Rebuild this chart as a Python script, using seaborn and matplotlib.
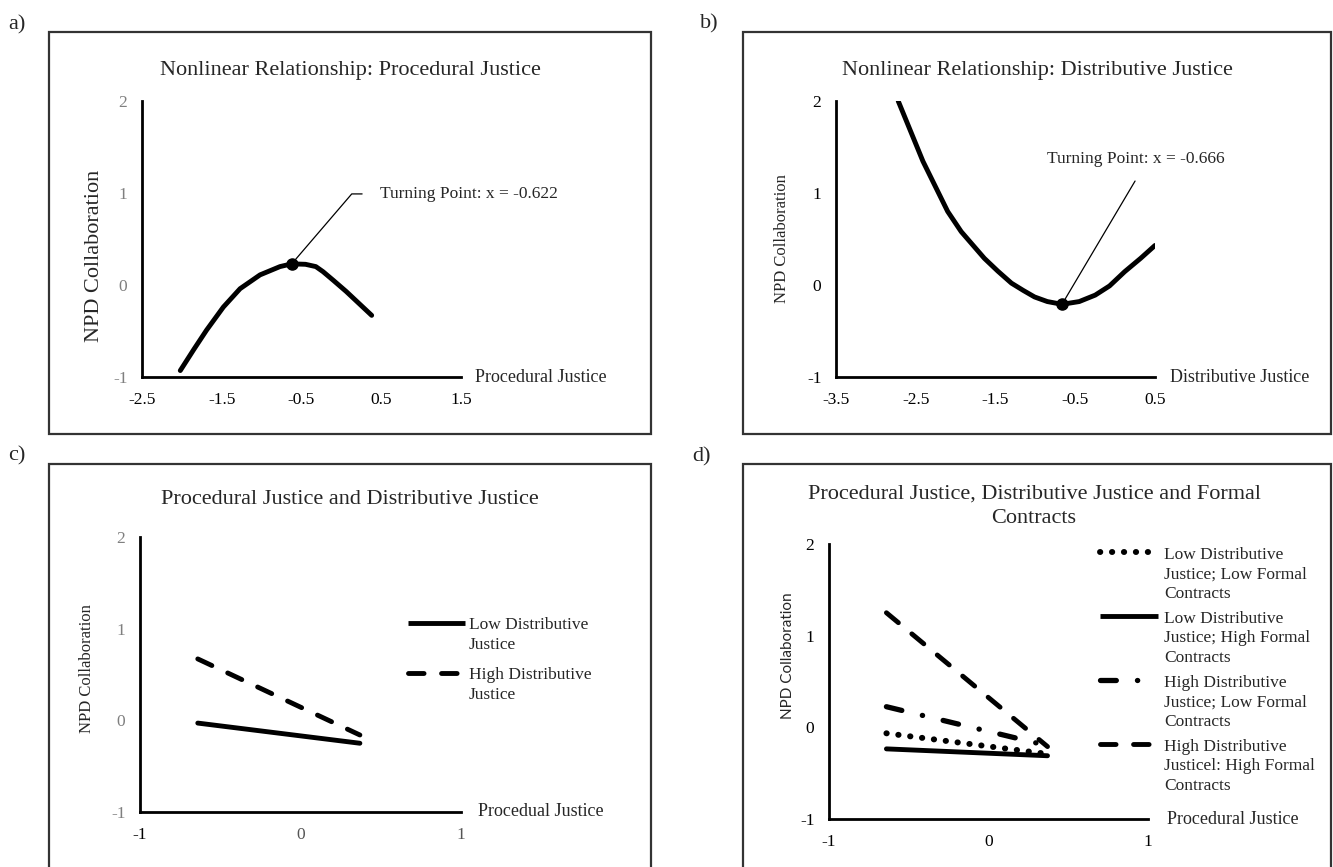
import matplotlib
matplotlib.use('Agg')
import matplotlib.pyplot as plt
import seaborn as sns
from matplotlib.patches import Rectangle
from matplotlib.lines import Line2D

# a) procedural justice curve
pj_x = [-2.02, -1.85, -1.69, -1.48, -1.27, -1.02, -0.77, -0.622, -0.45, -0.32, -0.23, -0.1, 0.06, 0.22, 0.38]
pj_y = [-0.93, -0.70, -0.49, -0.24, -0.04, 0.11, 0.20, 0.23, 0.225, 0.2, 0.145, 0.05, -0.07, -0.2, -0.33]
pj_turn = (-0.622, 0.23)

# b) distributive justice curve
dj_x = [-2.72, -2.41, -2.10, -1.93, -1.78, -1.64, -1.47, -1.30, -1.15, -1.01, -0.85, -0.666,
        -0.45, -0.25, -0.07, 0.12, 0.32, 0.5]
dj_y = [2.0, 1.345, 0.80, 0.58, 0.43, 0.29, 0.15, 0.02, -0.06, -0.13, -0.18, -0.21,
        -0.18, -0.11, -0.01, 0.145, 0.29, 0.43]
dj_turn = (-0.666, -0.21)

# c) two-way interaction
c_x = [-0.64, 0.37]
c_low = [-0.03, -0.25]
c_high = [0.67, -0.16]
c_labels = ['Low Distributive\nJustice', 'High Distributive\nJustice']

# d) three-way interaction
d_x = [-0.64, 0.37]
d_low_low = [-0.065, -0.29]
d_low_high = [-0.235, -0.31]
d_high_low = [0.225, -0.20]
d_high_high = [1.25, -0.21]
d_labels = ['Low Distributive\nJustice; Low Formal\nContracts',
            'Low Distributive\nJustice; High Formal\nContracts',
            'High Distributive\nJustice; Low Formal\nContracts',
            'High Distributive\nJusticel: High Formal\nContracts']

y_ticks = [-1, 0, 1, 2]
a_xticks = [-2.5, -1.5, -0.5, 0.5, 1.5]
b_xticks = [-3.5, -2.5, -1.5, -0.5, 0.5]
cd_xticks = [-1, 0, 1]

DOT = (0, (0.05, 1.95))
DASH = (0, (3.2, 3.6))
DASHDOT = (0, (3.0, 4.0, 0.05, 4.0))

sns.set_theme(style='white')
plt.rcParams['font.family'] = ['Liberation Serif', 'DejaVu Serif']

W, H = 1333, 867
fig = plt.figure(figsize=(W / 100, H / 100), dpi=100)


def px_axes(x0, x1, ytop, ybot):
    return fig.add_axes([x0 / W, 1 - ybot / H, (x1 - x0) / W, (ybot - ytop) / H])


def frame(x0, y0, x1, y1):
    fig.add_artist(Rectangle((x0 / W, 1 - y1 / H), (x1 - x0) / W, (y1 - y0) / H,
                             transform=fig.transFigure, fill=False, lw=1.6, ec='#333333'))


def style(ax, xticks, xlabel, ylabel, ysize=12, yfont=None, ycolor='black', xcolors=None,
          ylab_x=-0.16, ylab_y=0.5, xlab_x=0.045):
    ax.set_xlim(xticks[0], xticks[-1])
    ax.set_ylim(-1, 2)
    ax.set_xticks(xticks)
    ax.set_xticklabels([('%g' % t) for t in xticks])
    ax.set_yticks(y_ticks)
    ax.set_yticklabels([str(t) for t in y_ticks])
    for s in ['top', 'right']:
        ax.spines[s].set_visible(False)
    for s in ['left', 'bottom']:
        ax.spines[s].set_linewidth(2)
        ax.spines[s].set_color('black')
    ax.tick_params(direction='inout', length=11, width=2, labelsize=12.5, colors='black')
    ax.tick_params(axis='x', pad=5)
    ax.tick_params(axis='y', pad=5)
    for lab in ax.get_yticklabels():
        lab.set_color(ycolor)
    if xcolors:
        for lab, c in zip(ax.get_xticklabels(), xcolors):
            lab.set_color(c)
    ax.set_xlabel(xlabel, ha='left', va='center', fontsize=13)
    ax.xaxis.set_label_coords(1 + xlab_x, 0)
    kw = dict(fontsize=ysize)
    if yfont:
        kw['family'] = yfont
    ax.set_ylabel(ylabel, va='center', **kw)
    ax.yaxis.set_label_coords(ylab_x, ylab_y)
    ax.patch.set_alpha(0)
    for ln in ax.lines:
        ln.set_dash_capstyle('round')
        ln.set_solid_capstyle('round')
    if ax.get_legend():
        ax.get_legend().remove()


def key(styles, widths, labels, x0, x1, xtext, ycenters):
    for ls, lw, lab, yc in zip(styles, widths, labels, ycenters):
        fig.add_artist(Line2D([x0 / W, x1 / W], [1 - yc / H] * 2, transform=fig.transFigure,
                              color='black', lw=lw, linestyle=ls, dash_capstyle='round',
                              solid_capstyle='butt'))
        n = lab.count('\n')
        fig.text(xtext / W, 1 - (yc + 6 + 20 * n) / H, lab, fontsize=12.5, ha='left',
                 va='baseline', linespacing=1.3)


# frames and panel letters
frame(49, 32, 651, 434)
frame(743, 32, 1331, 434)
frame(49, 464, 651, 880)
frame(743, 464, 1331, 880)
for txt, x, y in [('a)', 8, 25), ('b)', 700, 24), ('c)', 8, 456), ('d)', 692, 457)]:
    fig.text(x / W, 1 - y / H, txt, fontsize=16, va='center', ha='left')

# ---- a
ax = px_axes(142, 461, 101, 377)
sns.lineplot(x=pj_x, y=pj_y, ax=ax, color='black', lw=3.5, estimator=None, sort=False)
ax.plot([pj_turn[0]], [pj_turn[1]], 'o', color='black', ms=8)
ax.plot([pj_turn[0], 0.13, 0.26], [pj_turn[1], 0.99, 0.99], color='black', lw=0.9)
ax.text(0.48, 0.99, 'Turning Point: x = -0.622', fontsize=12.5, va='center', ha='left')
style(ax, a_xticks, 'Procedural Justice', 'NPD Collaboration', ysize=16, ycolor='#7f7f7f',
      ylab_x=-0.15, ylab_y=0.44, xlab_x=0.044)
fig.text(350 / W, 1 - 70 / H, 'Nonlinear Relationship: Procedural Justice', fontsize=16, ha='center', va='center')

# ---- b
ax = px_axes(836, 1155, 101, 377)
sns.lineplot(x=dj_x, y=dj_y, ax=ax, color='black', lw=3.5, estimator=None, sort=False)
ax.plot([dj_turn[0]], [dj_turn[1]], 'o', color='black', ms=8)
ax.plot([dj_turn[0], 0.25], [dj_turn[1], 1.13], color='black', lw=0.9)
ax.text(-0.85, 1.37, 'Turning Point: x = -0.666', fontsize=12.5, va='center', ha='left')
style(ax, b_xticks, 'Distributive Justice', 'NPD Collaboration', ysize=12, ylab_x=-0.17, xlab_x=0.047)
fig.text(1037 / W, 1 - 70 / H, 'Nonlinear Relationship: Distributive Justice', fontsize=16, ha='center', va='center')

# ---- c
ax = px_axes(140, 461, 537, 812)
sns.lineplot(x=c_x, y=c_low, ax=ax, color='black', lw=3.5)
sns.lineplot(x=c_x, y=c_high, ax=ax, color='black', lw=3.5, linestyle=DASH)
style(ax, cd_xticks, 'Procedual Justice', 'NPD Collaboration', ysize=12, ycolor='#7f7f7f',
      xcolors=['black', '#555555', '#555555'], ylab_x=-0.165, ylab_y=0.52, xlab_x=0.053)
key(['-', DASH], [3.5, 3.5], c_labels, 408, 465, 469, [623, 673])
fig.text(350 / W, 1 - 500 / H, 'Procedural Justice and Distributive Justice', fontsize=16, ha='center', va='center')

# ---- d
ax = px_axes(829, 1148, 544, 819)
sns.lineplot(x=d_x, y=d_low_low, ax=ax, color='black', lw=4.3, linestyle=DOT)
sns.lineplot(x=d_x, y=d_low_high, ax=ax, color='black', lw=3.5)
sns.lineplot(x=d_x, y=d_high_low, ax=ax, color='black', lw=3.8, linestyle=DASHDOT)
sns.lineplot(x=d_x, y=d_high_high, ax=ax, color='black', lw=3.5, linestyle=DASH)
style(ax, cd_xticks, 'Procedural Justice', 'NPD Collaboration', ysize=11, yfont='Lato',
      ylab_x=-0.13, ylab_y=0.595, xlab_x=0.06)
key([DOT, '-', DASHDOT, DASH], [4.3, 3.5, 3.8, 3.5], d_labels, 1100, 1158, 1164, [552, 616, 680, 744])
fig.text(1034 / W, 1 - 506 / H, 'Procedural Justice, Distributive Justice and Formal\nContracts',
         fontsize=16, ha='center', va='center', linespacing=1.4)

fig.savefig('out.png', dpi=100)
